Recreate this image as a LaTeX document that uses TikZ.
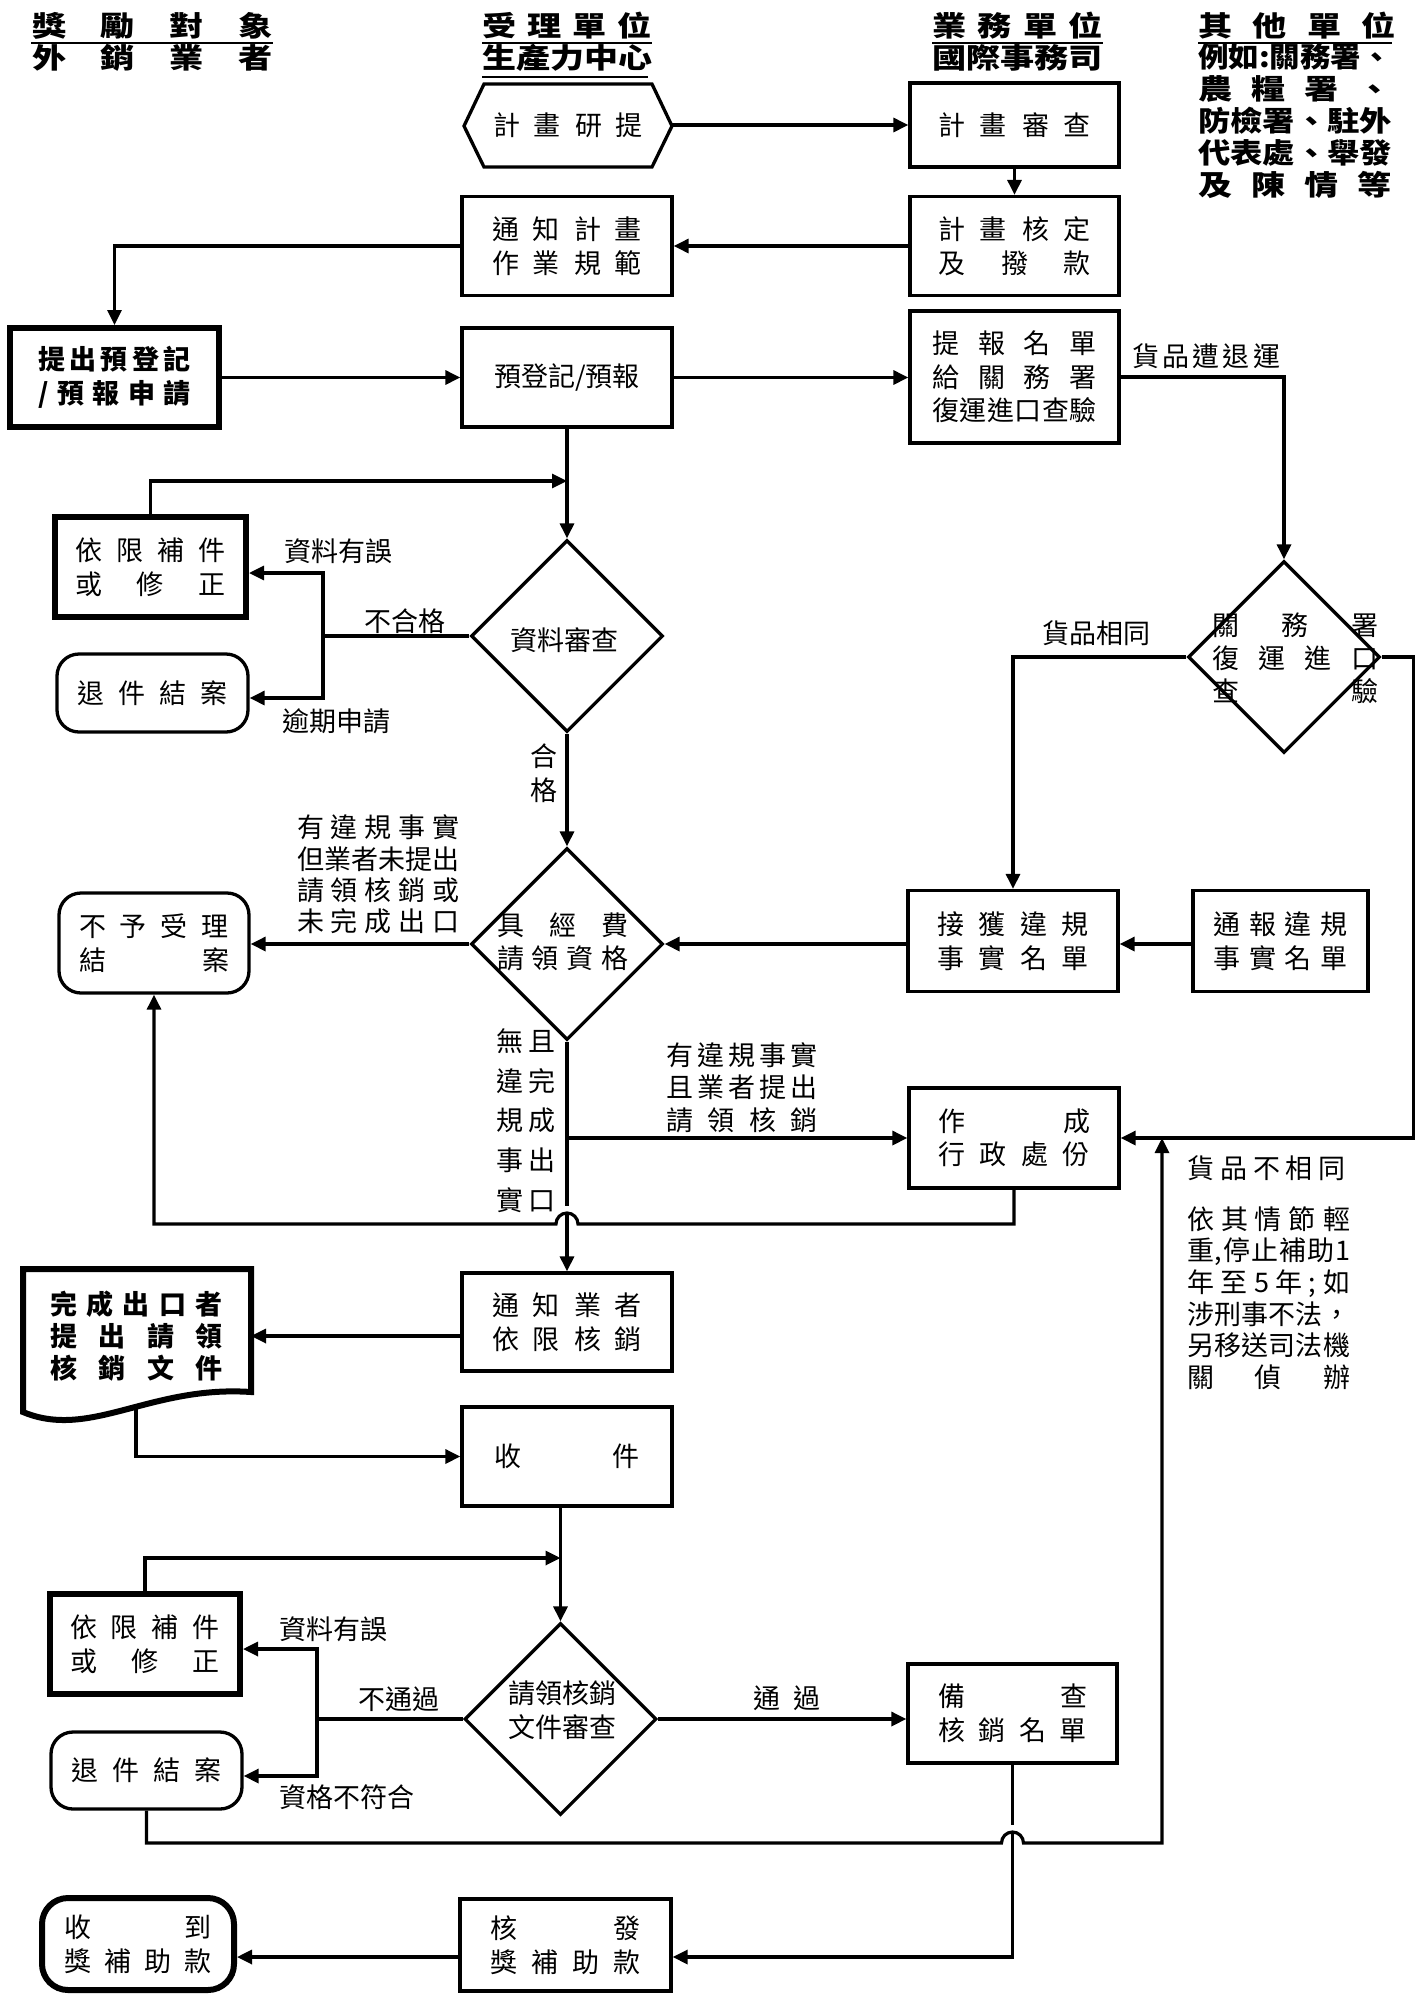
\documentclass[tikz,border=0pt]{standalone}
\usepackage{fontspec}
\setmainfont{Noto Sans CJK TC}
\newfontfamily\hdrfont{Noto Sans CJK TC}[FakeStretch=1.22]
\usetikzlibrary{arrows.meta,shapes.geometric}
\makeatletter
\newlength\dstw
\newcommand\dst[2]{\settowidth\dstw{#2}%
  \ifdim\dstw>#1pt\relax
    \pgfmathsetmacro\dstf{#1/\dstw}\scalebox{\dstf}[1]{#2}%
  \else
    \makebox[#1pt][s]{\dst@a#2\@nil}%
  \fi}
\def\dst@a#1#2\@nil{#1\ifx\relax#2\relax\else\hfill\dst@a#2\@nil\fi}
\makeatother
\newcommand\body{\fontsize{27pt}{33.5pt}\selectfont}
\newcommand\hdr{\hdrfont\bfseries\fontsize{28pt}{32pt}\selectfont}
\tikzset{
  ln/.style={line width=3.2pt},
  arr/.style={line width=3.2pt, -{Triangle[length=15pt,width=14pt]}},
  ul/.style={line width=2.6pt},
  bxl/.style={line width=3.3pt},
  bx/.style={draw, line width=3.3pt, inner sep=0pt, align=center, font=\body},
  thk/.style={bx, line width=6pt},
  rnd/.style={bx, rounded corners=22pt},
  dia/.style={draw, diamond, line width=3.3pt, minimum width=192pt, minimum height=192pt, inner sep=0pt},
  txt/.style={inner sep=0pt, align=center, font=\body},
  hdrtxt/.style={inner sep=0pt, align=center, font=\hdr},
}
\begin{document}
\begin{tikzpicture}[x=1pt,y=-1pt]
\useasboundingbox (0,0) rectangle (1423,1995);
\fill[white] (0,0) rectangle (1423,1995);

% ---------- headers ----------
\node[hdrtxt] (h1a) at (152.5,25.5) {\dst{241}{獎勵對象}};
\node[hdrtxt] (h1b) at (152.5,57.5) {\dst{241}{外銷業者}};
\draw[ul] (31,43) -- (273,43);
\node[hdrtxt] (h2a) at (567,25.5) {\dst{170}{受理單位}};
\node[hdrtxt] (h2b) at (567,57.5) {\dst{170}{生產力中心}};
\draw[ul] (482,43) -- (652,43);
\draw[ul] (482,77) -- (648,77);
\node[hdrtxt] (h3a) at (1017.5,25.5) {\dst{171}{業務單位}};
\node[hdrtxt] (h3b) at (1017.5,57.5) {\dst{171}{國際事務司}};
\draw[ul] (932,43) -- (1103,43);
\node[hdrtxt] (h4a) at (1297,25.5) {\dst{198}{其他單位}};
\draw[ul] (1198,43) -- (1392,43);
\node[hdrtxt] (h4b) at (1295,121.5) {\dst{194}{例如:關務署、}\\\dst{194}{農糧署、}\\\dst{194}{防檢署、駐外}\\\dst{194}{代表處、舉發}\\\dst{194}{及陳情等}};

% ---------- top nodes ----------
\draw[bxl] (464,126) -- (484,84) -- (652,84) -- (672,126) -- (652,167) -- (484,167) -- cycle;
\node[txt] (hex) at (568,125) {\dst{150}{計畫研提}};
\coordinate (hexE) at (672,125);
\node[bx, minimum width=209pt, minimum height=84pt] (sc1) at (1014.5,125) {\dst{153}{計畫審查}};
\node[bx, minimum width=209pt, minimum height=99pt] (sc2) at (1014.5,246) {\dst{153}{計畫核定}\\\dst{153}{及撥款}};
\node[bx, minimum width=210pt, minimum height=99pt] (nt) at (567,246) {\dst{150}{通知計畫}\\\dst{150}{作業規範}};
\node[thk, minimum width=209pt, minimum height=99pt, font=\body\bfseries] (ap) at (114.5,377.5) {\dst{153}{提出預登記}\\\dst{153}{/預報申請}};
\node[bx, minimum width=210pt, minimum height=99pt] (pr) at (567,377.5) {預登記/預報};
\node[bx, minimum width=209pt, minimum height=132pt] (rp) at (1014.5,377) {\dst{164}{提報名單}\\\dst{164}{給關務署}\\\dst{164}{復運進口查驗}};

% ---------- first review ----------
\node[thk, minimum width=191pt, minimum height=100pt] (fx1) at (150.5,567) {\dst{150}{依限補件}\\\dst{150}{或修正}};
\node[rnd, minimum width=191pt, minimum height=78pt] (rt1) at (152.5,693) {\dst{150}{退件結案}};
\node[dia] (d1) at (567,636) {};
\node[txt] (d1t) at (564,640) {資料審查};
\node[dia] (d2) at (567,944) {};
\node[txt] (d2t) at (563,942) {\dst{132}{具經費}\\\dst{132}{請領資格}};
\node[dia] (d3) at (1284,657) {};
\node[txt, font=\fontsize{27pt}{33pt}\selectfont] (d3t) at (1295,658) {\dst{166}{關務署}\\\dst{166}{復運進口}\\\dst{166}{查驗}};
\node[rnd, minimum width=190pt, minimum height=100pt] (rj) at (154,943) {\dst{150}{不予受理}\\\dst{150}{結案}};
\node[bx, minimum width=210pt, minimum height=101pt] (rv) at (1013,941) {\dst{152}{接獲違規}\\\dst{152}{事實名單}};
\node[bx, minimum width=175pt, minimum height=101pt] (rpt) at (1280.5,941) {\dst{134}{通報違規}\\\dst{134}{事實名單}};
\node[bx, minimum width=210pt, minimum height=100pt] (ad) at (1014,1138) {\dst{152}{作成}\\\dst{152}{行政處份}};
\node[bx, minimum width=210pt, minimum height=98pt] (nf) at (567,1322) {\dst{150}{通知業者}\\\dst{150}{依限核銷}};

% document shape
\draw[line width=6pt] (23,1269) -- (251,1269) -- (251,1392) .. controls (150,1385) and (90,1440) .. (23,1412) -- cycle;
\node[txt, font=\fontsize{27pt}{32pt}\selectfont\bfseries] (doct) at (136.5,1336.5) {\dst{172}{完成出口者}\\\dst{172}{提出請領}\\\dst{172}{核銷文件}};
\coordinate (docE) at (251,1336);
\coordinate (docS) at (136,1408);

% ---------- second review ----------
\node[bx, minimum width=210pt, minimum height=99pt] (rc) at (567,1456.5) {\dst{145}{收件}};
\node[thk, minimum width=190pt, minimum height=100pt] (fx2) at (145,1644) {\dst{150}{依限補件}\\\dst{150}{或修正}};
\node[rnd, minimum width=191pt, minimum height=77pt] (rt2) at (146.5,1770.5) {\dst{150}{退件結案}};
\node[dia] (d4) at (560.5,1719) {};
\node[txt] (d4t) at (562.5,1710) {請領核銷\\文件審查};
\node[bx, minimum width=209pt, minimum height=99pt] (ck) at (1012.5,1713.5) {\dst{149}{備查}\\\dst{149}{核銷名單}};
\node[bx, minimum width=211pt, minimum height=92pt] (is) at (565.5,1945) {\dst{150}{核發}\\\dst{150}{獎補助款}};
\node[rnd, line width=6pt, rounded corners=26pt, minimum width=192pt, minimum height=92pt] (rcv) at (138,1944) {\dst{147}{收到}\\\dst{147}{獎補助款}};

% ---------- labels ----------
\node[txt, anchor=west] (l1) at (1132,356) {\dst{148}{貨品遭退運}};
\node[txt, anchor=west] (l2) at (284,551.5) {資料有誤};
\node[txt, anchor=west] (l3) at (364,621) {不合格};
\node[txt, anchor=west] (l4) at (282,721.5) {逾期申請};
\node[txt] (l5) at (544,773) {合\\格};
\node[txt, font=\fontsize{27pt}{31.3pt}\selectfont] (l6) at (378,874.5) {\dst{162}{有違規事實}\\\dst{162}{但業者未提出}\\\dst{162}{請領核銷或}\\\dst{162}{未完成出口}};
\node[txt, anchor=west] (l7) at (1042,633.5) {貨品相同};
\node[txt, font=\fontsize{27pt}{39.7pt}\selectfont] (l8) at (525.5,1120.5) {\dst{59}{無且}\\\dst{59}{違完}\\\dst{59}{規成}\\\dst{59}{事出}\\\dst{59}{實口}};
\node[txt, font=\fontsize{27pt}{32.5pt}\selectfont] (l9) at (742,1087.5) {\dst{152}{有違規事實}\\\dst{152}{且業者提出}\\\dst{152}{請領核銷}};
\node[txt] (l10) at (1266.5,1168.5) {\dst{159}{貨品不相同}};
\node[txt, font=\fontsize{27pt}{31.6pt}\selectfont] (l11) at (1268.5,1298) {\dst{163}{依其情節輕}\\\dst{163}{重,停止補助1}\\\dst{163}{年至5年;如}\\\dst{163}{涉刑事不法，}\\\dst{163}{另移送司法機}\\\dst{163}{關偵辦}};
\node[txt, anchor=west] (l12) at (279,1629.5) {資料有誤};
\node[txt, anchor=west] (l13) at (358,1699.5) {不通過};
\node[txt, anchor=west] (l14) at (279,1797.5) {資格不符合};
\node[txt] (l15) at (787,1698.5) {\dst{68}{通過}};

% ---------- connectors ----------
\draw[arr] (hexE) -- (sc1.west |- hexE);
\draw[arr] (sc1.south) -- (sc2.north);
\draw[arr] (sc2.west) -- (nt.east);
\draw[arr] (nt.west) -| (ap.north);
\draw[arr] (ap.east) -- (pr.west);
\draw[arr] (pr.east) -- (rp.west |- pr.east);
\draw[arr] (pr.south) -- (d1.north);
\coordinate (m1) at (567,481);
\draw[arr] (fx1.north) |- (m1);
\coordinate (j1) at (323,636);
\draw[ln] (d1.west) -- (j1);
\draw[arr] (j1) |- ([yshift=-6pt]fx1.east);
\draw[arr] (j1) |- ([yshift=-5pt]rt1.east);
\draw[arr] (d1.south) -- (d2.north);
\draw[arr] (d2.west) -- (rj.east |- d2.west);
\draw[arr] (d2.east -| rv.west) -- (d2.east);
\draw[arr] (d2.east -| rpt.west) -- (d2.east -| rv.east);
\draw[arr] (rp.east) -| (d3.north);
\draw[arr] (d3.west) -| (rv.north);
\draw[arr] (d3.east) -- ++(32,0) |- (ad.east);
% main vertical with hop
\coordinate (g1a) at (567,1206);
\coordinate (g1b) at (567,1213);
\coordinate (b1) at (567,1138);
\draw[ln] (d2.south) -- (g1a);
\draw[arr] (g1b) -- (nf.north);
\draw[arr] (b1) -- (ad.west);
\coordinate (hop1) at (578,1224);
\draw[arr] (ad.south) |- (hop1) arc[start angle=0, end angle=180, radius=11pt] -| (rj.south);
% document
\draw[arr] ([yshift=-14pt]nf.west) -- (docE);
\draw[arr] (docS) |- (rc.west);
\draw[arr] (d4.north |- rc.south) -- (d4.north);
\coordinate (m2) at (560.5,1558);
\draw[arr] (fx2.north) |- (m2);
\coordinate (j2) at (317,1719);
\draw[ln] (d4.west) -- (j2);
\draw[arr] (j2) |- ([yshift=-5pt]fx2.east);
\draw[arr] (j2) |- ([yshift=-5.5pt]rt2.east);
\draw[arr] (d4.east) -- (ck.west |- d4.east);
% bottom
\coordinate (g2a) at (1012.5,1825);
\coordinate (g2b) at (1012.5,1832);
\coordinate (ise) at ([yshift=-12pt]is.east);
\coordinate (isw) at ([yshift=-12pt]is.west);
\draw[ln] (ck.south) -- (g2a);
\draw[arr] (g2b) |- (ise);
\draw[arr] (isw) -- (isw -| rcv.east);
\coordinate (hop2) at (1001.5,1843);
\coordinate (jr) at (1162,1138);
\draw[arr] (rt2.south) |- (hop2) arc[start angle=180, end angle=0, radius=11pt] -| (jr);
\end{tikzpicture}
\end{document}
